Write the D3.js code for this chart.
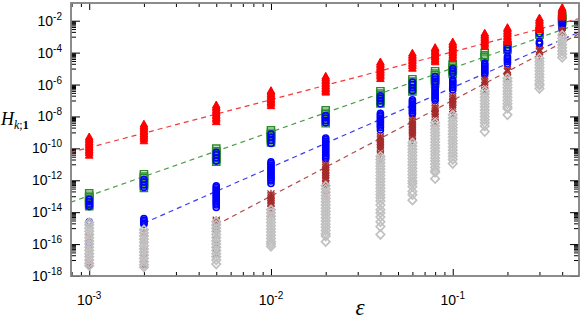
<!DOCTYPE html>
<html>
<head>
<meta charset="utf-8">
<script src="https://cdn.jsdelivr.net/npm/d3@7"></script>
<style>
  body { margin: 0; background: #fff; }
  svg { display: block; }
  .tick text { display: none; }
  .lbl { font-family: "Liberation Sans", Arial, sans-serif; font-size: 14px; fill: #000; }
</style>
</head>
<body>
<div id="chart"></div>
<script>
// eps columns (x) and log10(H), one list per column
var eps = [0.001, 0.002, 0.005, 0.01, 0.02, 0.04, 0.06, 0.08, 0.1, 0.15, 0.2, 0.3, 0.4];

var redLogH = [
  [-9.3,-9.4,-9.5,-9.6,-9.7,-9.8,-9.9,-10.0,-10.1,-10.2,-10.3,-10.45],
  [-8.5,-8.6,-8.7,-8.8,-8.9,-9.0,-9.1,-9.2,-9.3,-9.4,-9.55],
  [-7.3,-7.4,-7.5,-7.6,-7.7,-7.8,-7.9,-8.0,-8.1,-8.2,-8.35],
  [-6.4,-6.5,-6.6,-6.7,-6.8,-6.9,-7.0,-7.1,-7.2,-7.35],
  [-5.5,-5.6,-5.7,-5.8,-5.9,-6.0,-6.1,-6.2,-6.3,-6.4,-6.5],
  [-4.6,-4.7,-4.8,-4.9,-5.0,-5.1,-5.2,-5.3,-5.4,-5.5,-5.65],
  [-4.05,-4.15,-4.25,-4.35,-4.45,-4.55,-4.65,-4.75,-4.85,-5.0],
  [-3.7,-3.8,-3.9,-4.0,-4.1,-4.2,-4.3,-4.4,-4.5,-4.6],
  [-3.35,-3.45,-3.55,-3.65,-3.75,-3.85,-3.95,-4.05,-4.15,-4.25,-4.4],
  [-2.8,-2.9,-3.0,-3.1,-3.2,-3.3,-3.4,-3.5,-3.65],
  [-2.45,-2.55,-2.65,-2.75,-2.85,-2.95,-3.05,-3.15,-3.25,-3.35],
  [-1.85,-1.95,-2.05,-2.15,-2.25,-2.35,-2.45,-2.6],
  [-1.2,-1.3,-1.4,-1.5,-1.6,-1.7,-1.8]
];

var greenLogH = [
  [-12.8,-12.95,-13.05,-13.15,-13.25,-13.35,-13.45,-13.55,-13.65],
  [-11.6,-11.75,-11.85,-11.95,-12.05,-12.15,-12.25,-12.35,-12.5],
  [-10.0,-10.15,-10.25,-10.35,-10.45,-10.55,-10.65,-10.75,-10.85],
  [-8.85,-9.0,-9.1,-9.2,-9.3,-9.4,-9.5,-9.65],
  [-7.6,-7.75,-7.85,-7.95,-8.05,-8.15,-8.25,-8.35,-8.45],
  [-6.4,-6.55,-6.65,-6.75,-6.85,-6.95,-7.05,-7.2],
  [-5.65,-5.8,-5.9,-6.0,-6.1,-6.2,-6.3,-6.45],
  [-5.15,-5.3,-5.4,-5.5,-5.6,-5.7,-5.8,-5.95],
  [-4.7,-4.85,-4.95,-5.05,-5.15,-5.25,-5.35],
  [-4.0,-4.15,-4.25,-4.3],
  [-3.5,-3.65,-3.75,-3.85],
  [-2.65,-2.8,-2.9],
  [-1.65,-1.8,-1.9,-2.0,-2.1]
];

var blueLogH = [
  [-13.2,-13.35,-13.5,-13.65,-14.6,-14.7,-15.85,-16.0,-17.3],
  [-11.95,-12.1,-12.3,-12.45,-14.4,-14.5,-14.6,-14.7,-14.75],
  [-10.25,-10.4,-10.6,-10.8,-12.35,-12.45,-12.55,-12.65,-12.75,-12.85,-12.95,-13.05,-13.15,-13.25,-13.35,-13.45,-13.55,-13.7],
  [-9.1,-9.3,-9.5,-9.7,-10.85,-10.95,-11.05,-11.15,-11.25,-11.35,-11.45,-11.55,-11.65,-11.75,-11.85,-11.95,-12.05,-12.2],
  [-7.95,-8.1,-8.25,-8.4,-9.35,-9.45,-9.55,-9.65,-9.75,-9.85,-9.95,-10.05,-10.15,-10.25,-10.35,-10.45,-10.55,-10.65],
  [-6.7,-6.85,-7.0,-7.2,-7.8,-7.9,-8.0,-8.1,-8.2,-8.3,-8.4,-8.5,-8.6,-8.7,-8.85],
  [-5.85,-6.0,-6.2,-6.4,-6.95,-7.05,-7.15,-7.25,-7.35,-7.45,-7.55,-7.65,-7.75,-7.85],
  [-5.5,-5.65,-5.8,-5.95,-6.2,-6.3,-6.4,-6.5,-6.6,-6.7,-6.8,-6.9,-7.0],
  [-5.0,-5.15,-5.3,-5.7,-5.8,-5.9,-6.0,-6.1,-6.2,-6.35],
  [-4.65,-4.75,-4.85,-4.95,-5.05,-5.15,-5.25,-5.35],
  [-3.7,-3.85,-4.25,-4.35,-4.45,-4.55,-4.7],
  [-2.8,-3.3,-3.4,-3.45],
  [-1.9,-2.05,-2.2,-2.35,-2.45,-2.5]
];

var brownLogH = [
  [-15.6,-16.1,-16.5,-16.9,-17.2],
  [-15.3,-15.8,-16.4,-16.9,-17.3],
  [-14.5,-14.6,-14.7,-14.85,-15.0,-15.4,-16.0,-16.6],
  [-12.85,-12.95,-13.05,-13.15,-13.25,-13.35,-13.45,-13.6,-13.8,-14.1],
  [-11.0,-11.1,-11.2,-11.3,-11.4,-11.5,-11.6,-11.7,-11.8,-11.9,-12.0,-12.2,-12.5,-12.9],
  [-9.25,-9.35,-9.45,-9.55,-9.65,-9.75,-9.85,-9.95,-10.1,-10.4,-10.8],
  [-8.2,-8.3,-8.4,-8.5,-8.6,-8.7,-8.8,-8.9,-9.0,-9.1,-9.2,-9.3,-9.6],
  [-7.4,-7.5,-7.6,-7.7,-7.8,-7.9,-8.05,-8.4],
  [-6.75,-6.85,-6.95,-7.05,-7.15,-7.25,-7.35,-7.5,-7.9],
  [-5.7,-5.8,-5.9,-6.05,-6.4],
  [-5.05,-5.15,-5.2,-5.6],
  [-3.8,-3.9,-3.95,-4.3],
  [-2.6,-2.7,-2.75]
];

var grayLogH = [
  [-14.65,-14.8,-15.0,-15.2,-15.4,-15.6,-15.8,-16.0,-16.2,-16.4,-16.6,-16.8,-17.0,-17.2,-17.35],
  [-15.1,-15.3,-15.5,-15.7,-15.9,-16.1,-16.3,-16.5,-16.7,-16.9,-17.1,-17.3,-17.45],
  [-14.6,-14.8,-15.0,-15.2,-15.4,-15.6,-15.8,-16.0,-16.2,-16.4,-16.6,-16.8,-17.0,-17.25],
  [-13.85,-14.05,-14.25,-14.45,-14.65,-14.85,-15.05,-15.25,-15.45,-15.65,-15.85,-16.0,-16.15],
  [-12.35,-12.55,-12.75,-12.95,-13.15,-13.35,-13.55,-13.75,-13.95,-14.15,-14.35,-14.55,-14.75,-14.95,-15.15,-15.35,-15.5,-15.85],
  [-10.5,-10.7,-10.9,-11.1,-11.3,-11.5,-11.7,-11.9,-12.1,-12.3,-12.5,-12.7,-12.9,-13.1,-13.3,-13.55,-13.85,-14.05,-14.3,-14.6,-14.9,-15.4],
  [-9.65,-9.85,-10.05,-10.25,-10.45,-10.65,-10.85,-11.05,-11.25,-11.45,-11.65,-11.85,-12.05,-12.2,-12.4,-12.7,-12.9,-13.25],
  [-8.4,-8.6,-8.8,-9.0,-9.2,-9.4,-9.6,-9.8,-10.0,-10.2,-10.4,-10.6,-10.8,-11.0,-11.2,-11.4,-11.5,-11.9],
  [-7.9,-8.1,-8.3,-8.5,-8.7,-8.9,-9.1,-9.3,-9.5,-9.7,-9.9,-10.1,-10.3,-10.5,-10.7,-10.95],
  [-6.4,-6.6,-6.8,-7.0,-7.2,-7.4,-7.6,-7.8,-8.0,-8.2,-8.4,-8.6,-8.95],
  [-5.6,-5.8,-6.0,-6.2,-6.4,-6.6,-6.8,-7.0,-7.2,-7.4,-7.5,-7.9],
  [-4.35,-4.55,-4.75,-4.95,-5.15,-5.35,-5.55,-5.75,-5.95,-6.05,-6.25],
  [-2.9,-3.1,-3.3,-3.5,-3.7,-3.9,-4.1,-4.3]
];

// dashed power-law guides: H = 10^coef * eps^slope, from fitStart up to the right edge
var fitSlope = [3, 4, 5, 6];
var fitCoef = [-0.95, -0.97, -1.19, -0.99];
var fitStart = [0.00079, 0.00079, 0.002, 0.005];
var fitColor = ["#f03a3a", "#4a9e4a", "#3c3cf0", "#b04a4a"];

var xMajor = [1e-3, 1e-2, 1e-1];
var yMajorExp = [-18, -16, -14, -12, -10, -8, -6, -4, -2];

var W = 582, H = 321;
var margin = {top: 3, right: 3, bottom: 45, left: 71};
var xDomain = [7.94e-4, 0.495];
var yDomain = [1e-18, Math.pow(10, -0.89)];

var svg = d3.select("#chart").append("svg")
    .attr("width", W)
    .attr("height", H);

var xScale = d3.scaleLog()
    .domain(xDomain)
    .range([margin.left, W - margin.right]);

var yScale = d3.scaleLog()
    .domain(yDomain)
    .range([H - margin.bottom, margin.top]);

var x0 = margin.left, x1 = W - margin.right;
var y0 = H - margin.bottom, y1 = margin.top;

// minor ticks
var xMinor = [];
for (var e = -4; e <= -1; e++) {
    for (var k = 2; k <= 9; k++) {
        var v = k * Math.pow(10, e);
        if (v >= xDomain[0] && v <= xDomain[1]) xMinor.push(v);
    }
}
var yMajor = yMajorExp.map(e => Math.pow(10, e));
var yMinor = [];
yMajorExp.forEach(function(e) {
    for (var k = 1; k <= 9; k++) yMinor.push(k * Math.pow(10, e - 1));
});
yMinor = yMinor.filter(v => v >= yDomain[0] && v <= yDomain[1]);

function drawAxis(axisFn, scale, values, size, tx, ty) {
    svg.append("g")
        .attr("transform", "translate(" + tx + "," + ty + ")")
        .call(axisFn(scale).tickValues(values).tickSize(size).tickFormat(""))
        .call(g => g.select(".domain").remove())
        .selectAll("line").attr("stroke", "#000").attr("stroke-width", 1);
}

// ticks point inwards on all four sides
drawAxis(d3.axisTop, xScale, xMinor, 4, 0, y0);
drawAxis(d3.axisTop, xScale, xMajor, 7, 0, y0);
drawAxis(d3.axisBottom, xScale, xMinor, 4, 0, y1);
drawAxis(d3.axisBottom, xScale, xMajor, 7, 0, y1);
drawAxis(d3.axisRight, yScale, yMinor, 5, x0, 0);
drawAxis(d3.axisRight, yScale, yMajor, 9, x0, 0);
drawAxis(d3.axisLeft, yScale, yMinor, 5, x1, 0);
drawAxis(d3.axisLeft, yScale, yMajor, 9, x1, 0);

// tick labels 10^n
function powLabel(sel, exp) {
    sel.append("tspan").text("10");
    sel.append("tspan").attr("font-size", 10).attr("dy", -6).text(exp);
}

xMajor.forEach(function(v) {
    var t = svg.append("text")
        .attr("class", "lbl")
        .attr("x", xScale(v))
        .attr("y", 305)
        .attr("text-anchor", "middle");
    powLabel(t, Math.round(Math.log10(v)));
});

yMajor.forEach(function(v, i) {
    var t = svg.append("text")
        .attr("class", "lbl")
        .attr("x", 62)
        .attr("y", yScale(v) + 5)
        .attr("text-anchor", "end");
    powLabel(t, yMajorExp[i]);
});

// dashed guide lines
var clip = svg.append("clipPath").attr("id", "plotclip")
    .append("rect").attr("x", x0).attr("y", y1)
    .attr("width", x1 - x0).attr("height", y0 - y1);

var line = d3.line().x(d => xScale(d[0])).y(d => yScale(d[1]));
fitSlope.forEach(function(p, i) {
    var pts = [fitStart[i], xDomain[1]].map(ex => [ex, Math.pow(10, fitCoef[i]) * Math.pow(ex, p)]);
    svg.append("path")
        .attr("d", line(pts))
        .attr("fill", "none")
        .attr("stroke", fitColor[i])
        .attr("stroke-width", 1.2)
        .attr("stroke-dasharray", "5,4")
        .attr("clip-path", "url(#plotclip)");
});

// markers
var symbols = {
    triangle: "M0,-4.2L3.8,2.6L-3.8,2.6Z",
    square: "M-3.6,-3.3H3.6V3.3H-3.6Z",
    diamond: "M0,-4.4L4.2,0L0,4.4L-4.2,0Z",
    cross: "M-3.5,-3.5L3.5,3.5M-3.5,3.5L3.5,-3.5M0,-4V4"
};

function flat(data) {
    var out = [];
    data.forEach(function(col, i) {
        col.forEach(v => out.push([eps[i], Math.pow(10, v)]));
    });
    return out;
}

function drawSeries(data, shape, fill, stroke, sw) {
    var g = svg.append("g").attr("clip-path", "url(#plotclip)");
    if (shape === "circle") {
        g.selectAll("circle").data(flat(data)).enter().append("circle")
            .attr("cx", d => xScale(d[0]))
            .attr("cy", d => yScale(d[1]))
            .attr("r", 3)
            .attr("fill", fill)
            .attr("stroke", stroke)
            .attr("stroke-width", sw);
    } else {
        g.selectAll("path").data(flat(data)).enter().append("path")
            .attr("d", symbols[shape])
            .attr("transform", d => "translate(" + xScale(d[0]) + "," + yScale(d[1]) + ")")
            .attr("fill", fill)
            .attr("stroke", stroke)
            .attr("stroke-width", sw);
    }
}

drawSeries(greenLogH, "square", "none", "#2a8c2a", 1.4);
drawSeries(blueLogH, "circle", "none", "#0000ff", 1.6);
drawSeries(brownLogH, "cross", "none", "#a52a2a", 1.2);
drawSeries(grayLogH, "diamond", "none", "#c0c0c0", 1.7);
drawSeries(redLogH, "triangle", "#ff0000", "#ff0000", 1);

// frame
svg.append("rect")
    .attr("x", x0).attr("y", y1)
    .attr("width", x1 - x0).attr("height", y0 - y1)
    .attr("fill", "none")
    .attr("stroke", "#808080")
    .attr("stroke-width", 1.8);

// axis titles
var yt = svg.append("text")
    .attr("x", 1)
    .attr("y", 125)
    .attr("font-family", "'Liberation Serif', 'Times New Roman', serif")
    .attr("font-size", 18);
yt.append("tspan").attr("font-style", "italic").text("H");
yt.append("tspan").attr("font-size", 12).attr("dy", 4).attr("font-style", "italic").text("k");
yt.append("tspan").attr("font-size", 12).text(";");
yt.append("tspan").attr("font-size", 12).attr("font-weight", "bold").text("1");

svg.append("text")
    .attr("x", 360)
    .attr("y", 315)
    .attr("text-anchor", "middle")
    .attr("font-family", "'Liberation Serif', 'Times New Roman', serif")
    .attr("font-style", "italic")
    .attr("font-size", 23)
    .text("ε");
</script>
</body>
</html>
